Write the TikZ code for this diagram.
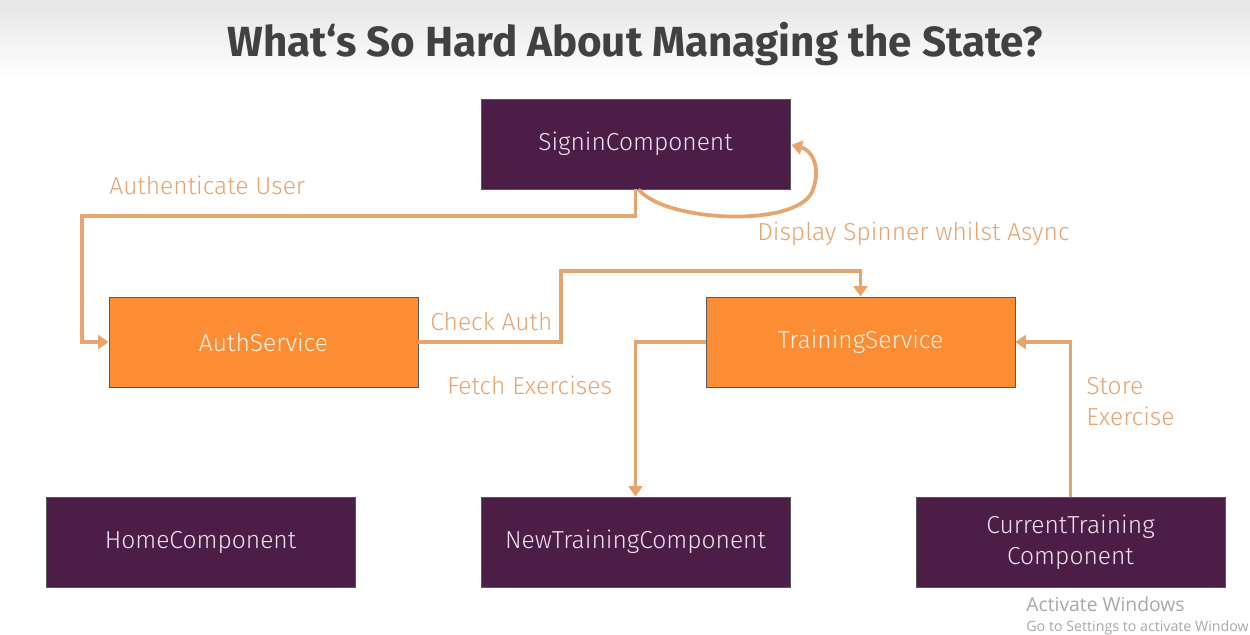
\documentclass[tikz,border=0pt]{standalone}
\usepackage{fontspec}
\setmainfont{Fira Sans}
\newfontfamily\lightfont{Fira Sans Light}
\newfontfamily\titlefont{Fira Sans}
\newfontfamily\winfont{Open Sans}
\usetikzlibrary{arrows.meta,calc}
\definecolor{purp}{HTML}{4B1D47}
\definecolor{orng}{HTML}{FD8D35}
\definecolor{conn}{HTML}{E6A46E}
\definecolor{ttl}{HTML}{414141}
\definecolor{ptxt}{HTML}{F2E2F0}
\definecolor{otxt}{HTML}{FFF1E0}
\definecolor{wintxt}{HTML}{A8A8A8}
\tikzset{
  comp/.style={draw=black!65, line width=0.5pt, fill=purp, text=ptxt,
    minimum width=6.18cm, minimum height=1.8cm, inner sep=0pt, align=center,
    font=\lightfont\fontsize{14}{17.6}\selectfont},
  svc/.style={comp, fill=orng, text=otxt},
  flow/.style={draw=conn, line width=2.1pt, -{Triangle[length=6pt,width=8pt]}},
  lbl/.style={text=conn, inner sep=0pt, anchor=base west,
    font=\lightfont\fontsize{14}{17}\selectfont},
}
\begin{document}
\begin{tikzpicture}[x=0.02cm, y=-0.02cm]
\useasboundingbox (0,0) rectangle (1250,635);
\fill[white] (0,0) rectangle (1250,635);
\shade[top color=black!10, bottom color=white] (0,0) rectangle (1250,78);

\node[font=\titlefont\bfseries\fontsize{24}{28}\selectfont, text=ttl] (title) at (635,44) {What‘s So Hard About Managing the State?};

\node[comp] (signin) at (635.5,144) {SigninComponent};
\node[svc] (auth) at (263.5,342) {AuthService};
\node[svc] (train) at (860.5,342) {TrainingService};
\node[comp] (home) at (200.5,542) {HomeComponent};
\node[comp] (newt) at (635.5,542) {NewTrainingComponent};
\node[comp] (curr) at (1070.5,542) {CurrentTraining\\Component};

\coordinate (a1) at (82,216);
\coordinate (c1) at (561,271);
\draw[flow] (signin.south) |- (a1) |- (auth.west);
\draw[flow] ($(signin.south)+(3,0)$) .. controls (665,222) and (795,228) .. (812,192) .. controls (822,168) and (812,150) .. ($(signin.east)+(1,1)$);
\draw[flow] (auth.east) -| (c1) -| (train.north);
\draw[flow] (train.west) -| (newt.north);
\draw[flow] (curr.north) |- (train.east);

\node[lbl] (l1) at (109,194) {Authenticate User};
\node[lbl] (l2) at (757,240) {Display Spinner whilst Async};
\node[lbl] (l3) at (430,330) {Check Auth};
\node[lbl] (l4) at (447,394) {Fetch Exercises};
\node[lbl] (l5) at (1086,394) {Store};
\node[lbl] (l6) at (1086,425) {Exercise};

\node[text=wintxt, inner sep=0pt, anchor=base west, font=\winfont\fontsize{11}{13}\selectfont] (w1) at (1026,611) {Activate Windows};
\node[text=wintxt, inner sep=0pt, anchor=base west, font=\winfont\fontsize{8.1}{10}\selectfont] (w2) at (1026,631) {Go to Settings to activate Window};
\end{tikzpicture}
\end{document}
